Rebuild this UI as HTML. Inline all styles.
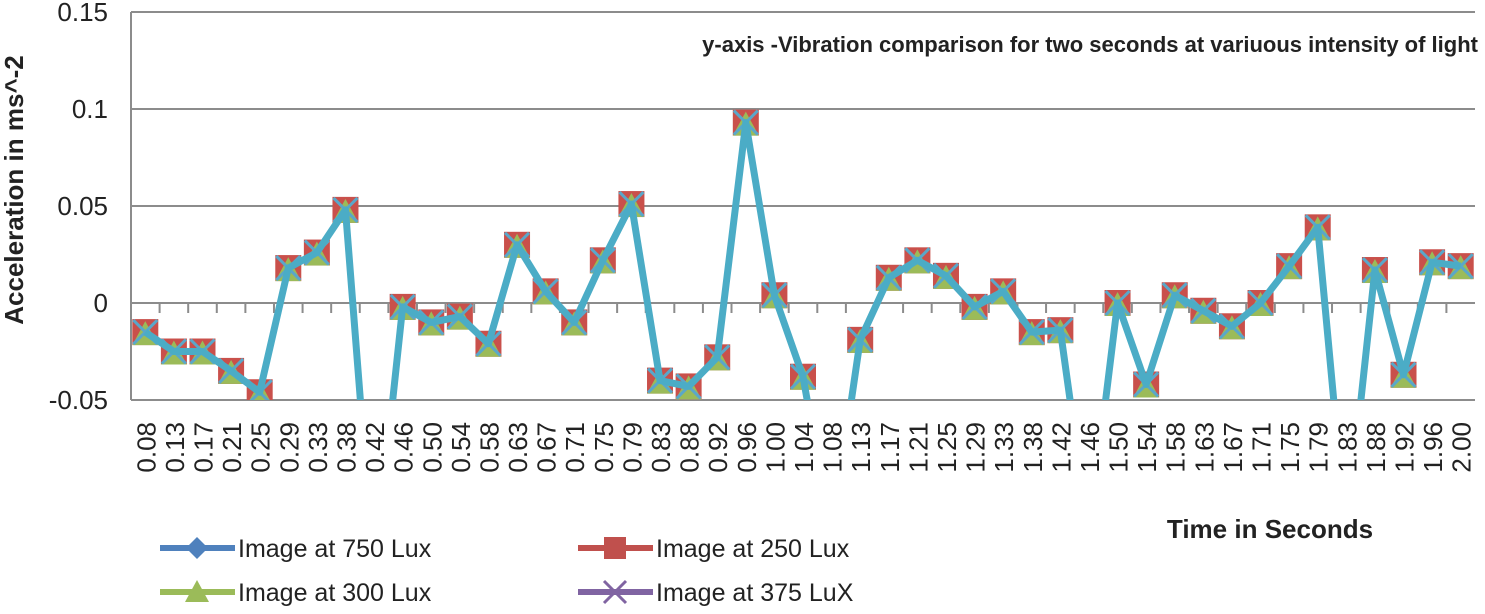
<!DOCTYPE html>
<html><head><meta charset="utf-8"><style>
body{margin:0;background:#fff}
svg text{font-family:"Liberation Sans","DejaVu Sans",sans-serif}
</style></head><body>
<svg id="c" width="1485" height="609" xmlns="http://www.w3.org/2000/svg"></svg>
<script>
const categories=["0.08","0.13","0.17","0.21","0.25","0.29","0.33","0.38","0.42","0.46","0.50","0.54","0.58","0.63","0.67","0.71","0.75","0.79","0.83","0.88","0.92","0.96","1.00","1.04","1.08","1.13","1.17","1.21","1.25","1.29","1.33","1.38","1.42","1.46","1.50","1.54","1.58","1.63","1.67","1.71","1.75","1.79","1.83","1.88","1.92","1.96","2.00"];
const values=[-0.015,-0.025,-0.025,-0.035,-0.046,0.018,0.026,0.048,-0.14,-0.002,-0.010,-0.007,-0.021,0.030,0.006,-0.010,0.022,0.051,-0.040,-0.043,-0.028,0.093,0.004,-0.038,-0.12,-0.019,0.013,0.022,0.014,-0.002,0.006,-0.015,-0.014,-0.12,0.000,-0.042,0.004,-0.004,-0.012,0.000,0.019,0.039,-0.12,0.017,-0.037,0.021,0.019];
const yTicks=[0.15,0.1,0.05,0,-0.05];
const yTickLabels=["0.15","0.1","0.05","0","-0.05"];
const NS="http://www.w3.org/2000/svg";
const svg=document.getElementById('c');
const L=131,R=1475,T=12,B=400,ymin=-0.05,ymax=0.15;
const bw=(R-L)/categories.length;
const X=i=>L+bw*(i+0.5);
const Y=v=>B-(v-ymin)/(ymax-ymin)*(B-T);
function el(t,a,p){const e=document.createElementNS(NS,t);for(const k in a)e.setAttribute(k,a[k]);(p||svg).appendChild(e);return e;}
const defs=el('defs',{});const cp=el('clipPath',{id:'pc'},defs);el('rect',{x:L,y:T-15,width:R-L+10,height:B-T+15},cp);
yTicks.forEach((v,i)=>{
 const g=el('line',{x1:L,x2:R,y1:Y(v),y2:Y(v),stroke:'#8c8c8c','stroke-width':2});
 
 
 const t=el('text',{x:108,y:Y(v)+9,'text-anchor':'end','font-size':26,fill:'#222'});t.textContent=yTickLabels[i];
 
 
});
const ya=el('line',{x1:L,x2:L,y1:T,y2:B,stroke:'#8c8c8c','stroke-width':2});


for(let i=1;i<categories.length;i++){const tk=el('line',{x1:L+bw*i,x2:L+bw*i,y1:Y(0),y2:Y(0)+10,stroke:'#8c8c8c','stroke-width':2});
 
 }
categories.forEach((c,i)=>{const t=el('text',{transform:`translate(${X(i)+10},422) rotate(-90)`,'text-anchor':'end','font-size':26,fill:'#222'});t.textContent=c;
 
 });
const g=el('g',{'clip-path':'url(#pc)'});


values.forEach((v,i)=>{if(v<ymin)return;const x=X(i),y=Y(v);
 const s=el('rect',{x:x-13,y:y-13,width:26,height:26,fill:'#c9504b'},g);
 
 
 const tr=el('polygon',{points:`${x},${y-11} ${x+13},${y+13} ${x-13},${y+13}`,fill:'#9bbb59'},g);
 
 
 const xm=el('path',{d:`M${x-12} ${y-12}L${x+12} ${y+12}M${x+12} ${y-12}L${x-12} ${y+12}`,stroke:'#5aa7c9','stroke-width':3},g);
 
 
});
const ln=el('polyline',{points:values.map((v,i)=>X(i)+','+Y(v)).join(' '),fill:'none',stroke:'#4bacc6','stroke-width':7,'stroke-linejoin':'round'},g);


function tx(x,y,s,str,a,n,extra){const t=el('text',Object.assign({x,y,'font-size':s,'font-weight':'bold',fill:'#222','text-anchor':a},extra||{}));t.textContent=str;return t;}
tx(1478,52,22,'y-axis -Vibration comparison for two seconds at variuous intensity of light','end','chart-title');
tx(1270,538,26,'Time in Seconds','middle','x-axis-title');
tx(0,0,26,'Acceleration in ms^-2','middle','y-axis-title',{transform:'translate(23,190) rotate(-90)'});
const leg=[["Image at 750 Lux",160,548,"#4f81bd","d"],["Image at 250 Lux",578,548,"#c0504d","s"],["Image at 300 Lux",160,592,"#9bbb59","t"],["Image at 375 LuX",578,592,"#8064a2","x"]];
leg.forEach(l=>{const [n,x,y,c,m]=l;const gg=el('g',{});
 
 
 el('line',{x1:x,x2:x+75,y1:y,y2:y,stroke:c,'stroke-width':6},gg);
 const cx=x+37;
 if(m=='d')el('polygon',{points:`${cx},${y-11} ${cx+11},${y} ${cx},${y+11} ${cx-11},${y}`,fill:c},gg);
 if(m=='s')el('rect',{x:cx-11,y:y-11,width:22,height:22,fill:c},gg);
 if(m=='t')el('polygon',{points:`${cx},${y-12} ${cx+12},${y+10} ${cx-12},${y+10}`,fill:c},gg);
 if(m=='x')el('path',{d:`M${cx-11} ${y-11}L${cx+11} ${y+11}M${cx+11} ${y-11}L${cx-11} ${y+11}`,stroke:c,'stroke-width':3},gg);
 const t=el('text',{x:x+78,y:y+9,'font-size':25,fill:'#222'},gg);t.textContent=n;});
</script>
</body></html>
